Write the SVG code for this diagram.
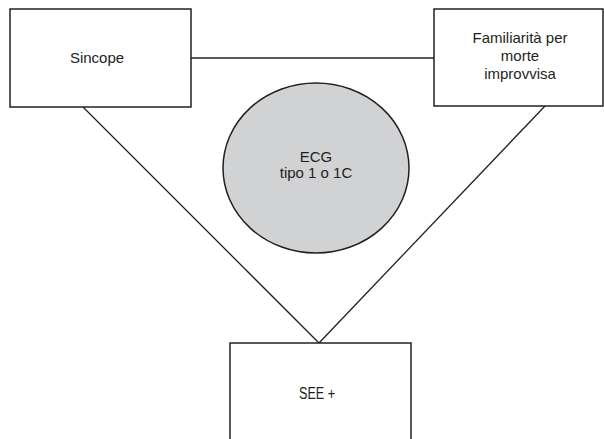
<svg xmlns="http://www.w3.org/2000/svg" width="604" height="439" viewBox="0 0 604 439">
<style>
.box{fill:#fff;stroke:#231f20;stroke-width:1.5}
.ell{fill:#d1d2d4;stroke:#231f20;stroke-width:1.5}
.ln{stroke:#231f20;stroke-width:1.3;fill:none}
text{font-family:"Liberation Sans",Arial,sans-serif;font-size:15px;fill:#231f20;text-anchor:middle}
</style>
<rect width="604" height="439" fill="#fff"/>
<g id="connectors">
<line class="ln" x1="191" y1="58" x2="434" y2="58"/>
<line class="ln" x1="83" y1="107" x2="319" y2="343"/>
<line class="ln" x1="545" y1="106" x2="319" y2="343"/>
</g>
<g id="sincope">
<rect class="box" x="10" y="9" width="181" height="98"/>
<text x="97" y="62.5">Sincope</text>
</g>
<g id="familiarita">
<rect class="box" x="434" y="9" width="169" height="97"/>
<text x="520" y="43">Familiarità per</text>
<text x="520" y="61">morte</text>
<text x="520" y="79">improvvisa</text>
</g>
<g id="ecg">
<ellipse class="ell" cx="316" cy="168" rx="93" ry="85"/>
<text x="316" y="162">ECG</text>
<text x="316" y="178">tipo 1 o 1C</text>
</g>
<g id="see">
<rect class="box" x="230" y="343" width="181" height="110"/>
<text x="317" y="399" style="font-size:16px" textLength="36" lengthAdjust="spacingAndGlyphs">SEE +</text>
</g>
</svg>
